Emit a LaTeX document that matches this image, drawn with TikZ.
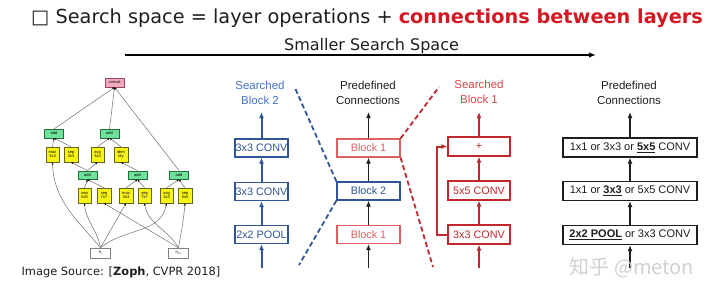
\documentclass[tikz,border=0pt]{standalone}
\usepackage{fontspec}
\setmainfont{Liberation Sans}
\newfontfamily\dejavu{DejaVu Sans}
\newfontfamily\cjk{Noto Sans CJK SC}
\usetikzlibrary{arrows.meta}
\definecolor{bblue}{RGB}{47,85,151}
\definecolor{hblue}{RGB}{68,114,196}
\definecolor{rred}{RGB}{192,40,45}
\definecolor{hred}{RGB}{214,70,70}
\definecolor{pred}{RGB}{222,95,95}
\definecolor{titlered}{RGB}{210,25,35}
\definecolor{txt}{RGB}{30,30,30}
\definecolor{ncpink}{RGB}{240,170,190}
\definecolor{ncpinkd}{RGB}{150,70,100}
\definecolor{nadd}{RGB}{110,225,155}
\definecolor{naddd}{RGB}{30,110,60}
\definecolor{nyel}{RGB}{248,245,20}
\definecolor{nyeld}{RGB}{100,100,30}
\definecolor{nedgec}{RGB}{120,120,120}
\tikzset{
  boxbase/.style={line width=1.2pt, fill=white, inner sep=0pt, minimum height=18pt, font=\fontsize{10.8}{12}\selectfont},
  bbox/.style={boxbase, draw=bblue, text=bblue, minimum width=53pt},
  mbox1/.style={boxbase, draw=pred, text=pred, minimum width=63pt},
  mbox2/.style={boxbase, draw=bblue, text=bblue, minimum width=63pt},
  rbox/.style={boxbase, draw=rred, text=rred, minimum width=62pt, minimum height=19pt},
  kbox/.style={boxbase, draw=txt, text=txt, minimum width=134pt, minimum height=19pt, font=\fontsize{11}{12}\selectfont},
  hdr/.style={align=center, inner sep=0pt, font=\fontsize{11.5}{15}\selectfont},
  barrow/.style={draw=bblue, line width=2pt, -{Latex[length=6pt,width=5pt]}},
  karrow/.style={draw=txt, line width=1.6pt, -{Latex[length=6pt,width=5pt]}},
  rarrow/.style={draw=rred, line width=2pt, -{Latex[length=6pt,width=5pt]}},
  bdash/.style={draw=bblue, line width=1.8pt, dash pattern=on 5pt off 3pt},
  rdash/.style={draw=rred, line width=1.8pt, dash pattern=on 5pt off 3pt},
  nbase/.style={inner sep=0pt, line width=0.5pt, align=center, font=\fontsize{4}{4.4}\selectfont},
  nconcat/.style={nbase, draw=ncpinkd, fill=ncpink, minimum width=19pt, minimum height=9pt},
  naddn/.style={nbase, draw=naddd, fill=nadd, minimum width=19pt, minimum height=8.5pt},
  nop/.style={nbase, draw=nyeld, fill=nyel, minimum width=13.5pt, minimum height=15pt},
  nin/.style={nbase, draw=gray, fill=white, minimum width=20pt, minimum height=10pt},
  nedge/.style={draw=nedgec, line width=0.55pt, -{Latex[length=2.2pt,width=2pt,color=black]}},
}
\begin{document}
\begin{tikzpicture}[x=1pt,y=-1pt]
\useasboundingbox (0,0) rectangle (720,298);
% title
\node[anchor=base west, inner sep=0pt, text=txt, font=\dejavu\fontsize{19.3}{22}\selectfont] (title) at (31,23)
  {□ Search space = layer operations + \textbf{\textcolor{titlered}{connections between layers}}};
\node[anchor=base, inner sep=0pt, text=txt, font=\dejavu\fontsize{16}{18}\selectfont] (sss) at (371.5,50) {Smaller Search Space};
\coordinate (arL) at (125,55);
\coordinate (arR) at (596,55);
\draw[draw=black, line width=1.8pt, -{Latex[length=7pt,width=5.5pt]}] (arL) -- (arR);

% ---------------- NASNet cell ----------------
\node[nconcat] (concat) at (114.5,82.5) {concat};
\node[naddn] (addA) at (54,133.5) {add};
\node[naddn] (addB) at (109.5,133.5) {add};
\node[nop] (maxA) at (52.5,154.5) {max\\3x3};
\node[nop] (sepA) at (71,154.5) {sep\\3x3};
\node[nop] (avgA) at (97.5,154.5) {avg\\3x3};
\node[nop] (idA) at (121,154.5) {iden\\tity};
\node[naddn] (addC) at (87.5,175) {add};
\node[naddn] (addD) at (137.5,175) {add};
\node[naddn] (addE) at (179,175) {add};
\node[nop] (s55a) at (84.5,195.5) {sep\\5x5};
\node[nop] (s77a) at (104,195.5) {sep\\7x7};
\node[nop] (mx33) at (126,195.5) {max\\3x3};
\node[nop] (s77b) at (144.5,195.5) {sep\\7x7};
\node[nop] (av33) at (166.5,195.5) {avg\\3x3};
\node[nop] (s55b) at (185,195.5) {sep\\5x5};
\node[nin] (hi) at (100.5,253) {h\textsubscript{i}};
\node[nin] (hil) at (178.5,253) {h\textsubscript{i-1}};
\draw[nedge] (addA.north) -- (concat.south);
\draw[nedge] (addB.north) -- (concat.south);
\draw[nedge] (addE.north) -- (concat.south);
\draw[nedge] (maxA.north) -- (addA.south);
\draw[nedge] (sepA.north) -- (addA.south);
\draw[nedge] (avgA.north) -- (addB.south);
\draw[nedge] (idA.north) -- (addB.south);
\draw[nedge] (addC.north) -- (sepA.south);
\draw[nedge] (addC.north) -- (avgA.south);
\draw[nedge] (addD.north) -- (idA.south);
\draw[nedge] (s55a.north) -- (addC.south);
\draw[nedge] (s77a.north) -- (addC.south);
\draw[nedge] (mx33.north) -- (addD.south);
\draw[nedge] (s77b.north) -- (addD.south);
\draw[nedge] (av33.north) -- (addE.south);
\draw[nedge] (s55b.north) -- (addE.south);
\draw[nedge] (hi.north) to[out=130,in=-88] (maxA.south);
\draw[nedge] (hi.north) to[out=100,in=-85] (s55a.south);
\draw[nedge] (hi.north) -- (mx33.south);
\draw[nedge] (hi.north) to[out=40,in=-100] (av33.south);
\draw[nedge] (hil.north) -- (s77a.south);
\draw[nedge] (hil.north) to[out=120,in=-80] (s77b.south);
\draw[nedge] (hil.north) to[out=80,in=-95] (s55b.south);
\node[anchor=base, inner sep=0pt, text=txt, font=\dejavu\fontsize{11.4}{13}\selectfont] (src) at (121,275)
  {Image Source: [\textbf{Zoph}, CVPR 2018]};

% ---------------- Searched Block 2 (blue) ----------------
\node[hdr, text=hblue] (h2) at (260,92.5) {Searched\\Block 2};
\node[bbox] (b2c1) at (261.5,148) {3x3 CONV};
\node[bbox] (b2c2) at (261.5,191.5) {3x3 CONV};
\node[bbox] (b2p) at (261.5,234.5) {2x2 POOL};
\coordinate (b2in) at (261.5,268);
\coordinate (b2out) at (261.5,112);
\draw[barrow] (b2in) -- (b2p);
\draw[barrow] (b2p) -- (b2c2);
\draw[barrow] (b2c2) -- (b2c1);
\draw[barrow] (b2c1) -- (b2out);

% ---------------- Predefined connections (middle) ----------------
\node[hdr, text=txt] (hm) at (368,92.5) {Predefined\\Connections};
\node[mbox1] (m1t) at (368.5,148) {Block 1};
\node[mbox2] (m2) at (368.5,191) {Block 2};
\node[mbox1] (m1b) at (368.5,234.5) {Block 1};
\coordinate (min) at (368.5,268);
\coordinate (mout) at (368.5,112);
\draw[karrow] (min) -- (m1b);
\draw[karrow] (m1b) -- (m2);
\draw[karrow] (m2) -- (m1t);
\draw[karrow] (m1t) -- (mout);
\coordinate (bd1) at (295,88);
\coordinate (bd2) at (299,265);
\draw[bdash] (m2.north west) -- (bd1);
\draw[bdash] (m2.south west) -- (bd2);
\coordinate (rd1) at (439,87);
\coordinate (rd2) at (433,267);
\draw[rdash] (m1t.north east) -- (rd1);
\draw[rdash] (m1t.south east) -- (rd2);

% ---------------- Searched Block 1 (red) ----------------
\node[hdr, text=hred] (h1) at (479,92) {Searched\\Block 1};
\node[rbox] (plus) at (479,146.5) {+};
\node[rbox] (c55) at (479,190.5) {5x5 CONV};
\node[rbox] (c33) at (479,234.5) {3x3 CONV};
\coordinate (rin) at (479,268);
\coordinate (rout) at (479,112);
\draw[rarrow] (rin) -- (c33);
\draw[rarrow] (c33) -- (c55);
\draw[rarrow] (c55) -- (plus);
\draw[rarrow] (plus) -- (rout);
\draw[rarrow] (c33.west) -- ++(-10,0) |- (plus.west);

% ---------------- Predefined connections (right) ----------------
\node[hdr, text=txt] (hk) at (629,92.5) {Predefined\\Connections};
\node[kbox] (k3) at (630,147.5) {1x1 or 3x3 or \underline{\textbf{5x5}} CONV};
\node[kbox] (k2) at (630,191) {1x1 or \underline{\textbf{3x3}} or 5x5 CONV};
\node[kbox] (k1) at (630,235) {\underline{\textbf{2x2 POOL}} or 3x3 CONV};
\coordinate (kin) at (630,268);
\coordinate (kout) at (630,112);
\draw[karrow] (kin) -- (k1);
\draw[karrow] (k1) -- (k2);
\draw[karrow] (k2) -- (k3);
\draw[karrow] (k3) -- (kout);

% watermark
\node[text=black!18, inner sep=0pt, font=\cjk\fontsize{20}{21}\selectfont] (wm) at (632,268) {知乎 @meton};
\end{tikzpicture}
\end{document}
